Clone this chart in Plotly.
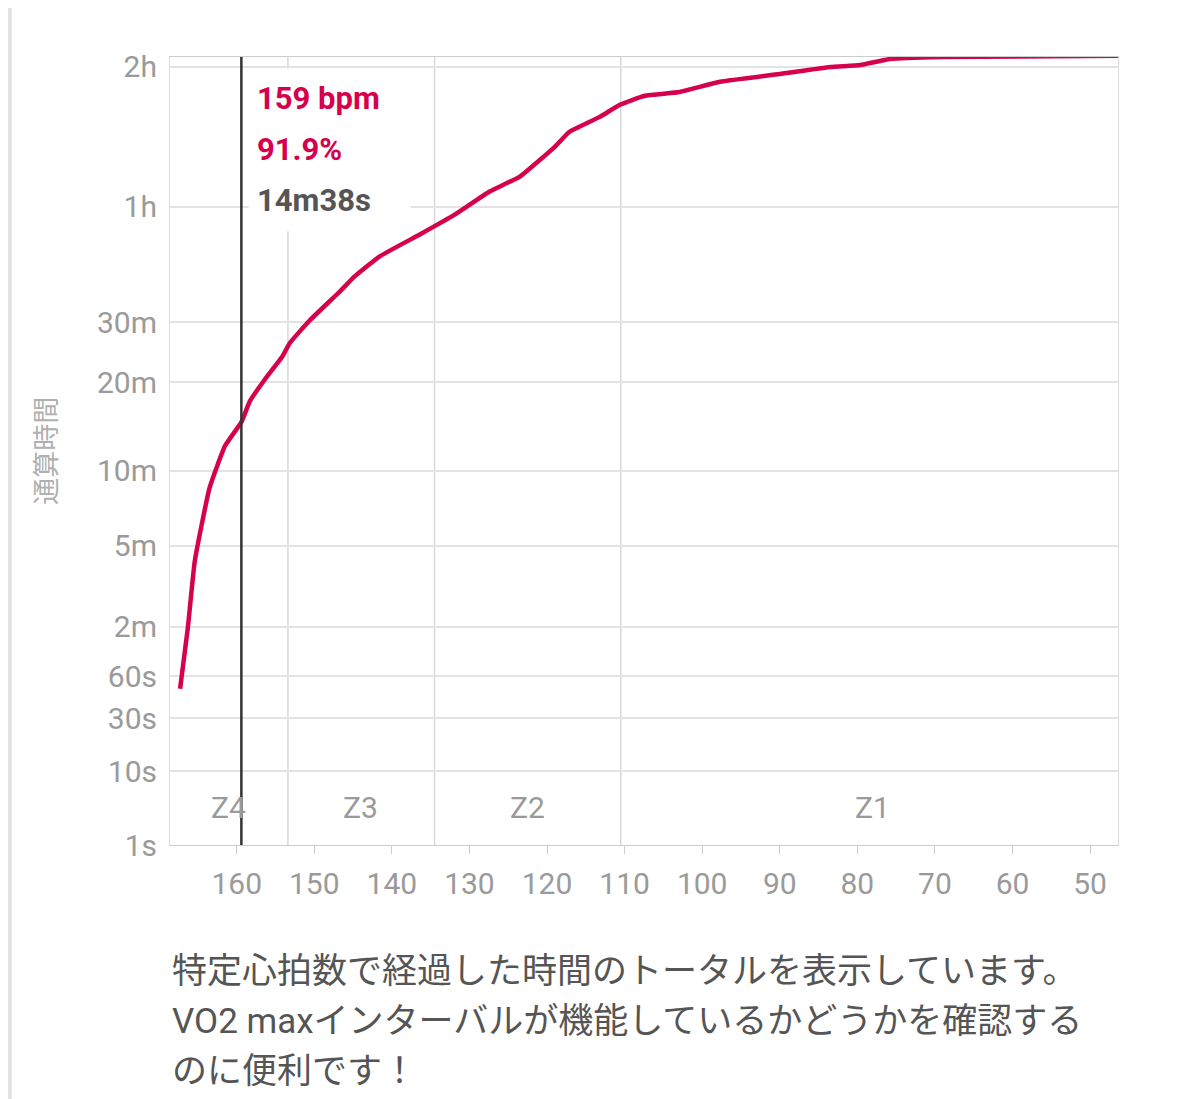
import numpy as np
import plotly.graph_objects as go

# heart rate (bpm) vs cumulative time (seconds)
bpm = [167.3, 166.3, 165.4, 163.5, 161.5, 159.4, 158.3, 156.4, 154.1, 153.2, 150.6, 146.7,
       144.8, 141.6, 136.4, 131.9, 127.4, 123.5, 119.0, 117.1, 113.2, 110.6, 107.4, 102.9,
       97.7, 90.0, 83.5, 79.6, 75.8, 69.3, 46.4]
seconds = [49, 118, 253, 513, 730, 878, 1035, 1220, 1430, 1560, 1820, 2165,
           2370, 2670, 3046, 3430, 3880, 4180, 4845, 5220, 5620, 5970, 6240, 6360,
           6690, 6955, 7200, 7270, 7490, 7570, 7610]

tick_secs = [1, 10, 30, 60, 120, 300, 600, 1200, 1800, 3600, 7200, 14400]
tick_text = ['1s', '10s', '30s', '60s', '2m', '5m', '10m', '20m', '30m', '1h', '2h']
tick_pos = [0, 74, 127, 169, 219, 300, 375, 464, 524, 640, 780, 920]  # the chart's own time scale

zone_edges = [153.4, 134.5, 110.5]
zone_names = ['Z4', 'Z3', 'Z2', 'Z1']
zone_mid = [161.0, 144.0, 122.5, 78.0]

cursor_bpm = 159.4
cursor_lines = ['159 bpm', '91.9%', '14m38s']

caption = ['特定心拍数で経過した時間のトータルを表示しています。',
           'VO2 maxインターバルが機能しているかどうかを確認する',
           'のに便利です！']


def scale(t):
    return np.interp(np.log(t), np.log(tick_secs), tick_pos)


red = '#d6004c'
grey = '#9a9a9a'
font = 'Roboto, Noto Sans CJK JP'

fig = go.Figure()
fig.add_trace(go.Scatter(x=bpm, y=scale(seconds), mode='lines',
                         line=dict(color=red, width=4.5, shape='spline', smoothing=0.4), hoverinfo='skip'))

for z in zone_edges:
    fig.add_shape(type='line', x0=z, x1=z, y0=0, y1=790, line=dict(color='#d8d8d8', width=1.5), layer='below')
for name, m in zip(zone_names, zone_mid):
    fig.add_annotation(x=m, y=38, text=name, showarrow=False, font=dict(size=30, color=grey, family=font))

# hover box
fig.add_shape(type='rect', xref='paper', yref='paper', x0=0.083, x1=0.254, y0=0.779, y1=0.985,
              fillcolor='white', line=dict(width=0), layer='above')
fig.add_shape(type='line', x0=cursor_bpm, x1=cursor_bpm, y0=0, y1=790, line=dict(color='#333', width=2.5), layer='above')
for i, (txt, col) in enumerate(zip(cursor_lines, [red, red, '#555'])):
    fig.add_annotation(x=cursor_bpm, y=748 - i * 51, text='<b>' + txt + '</b>', showarrow=False, xanchor='left',
                       xshift=14, font=dict(size=31, color=col, family=font))

fig.add_annotation(xref='paper', yref='paper', x=-0.13, y=0.5, xanchor='center', text='通算時間', textangle=-90,
                   showarrow=False, font=dict(size=27, color='#b0b0b0', family=font))
for i, line in enumerate(caption):
    fig.add_annotation(xref='paper', yref='paper', x=0.0, y=-0.132 - i * 0.0635, yanchor='top', xanchor='left',
                       text=line, showarrow=False, font=dict(size=35, color='#555', family=font))
fig.add_shape(type='line', xref='paper', yref='paper', x0=-0.169, x1=-0.169, y0=1.08, y1=-0.33,
              line=dict(color='#e3e3e3', width=4))

fig.update_layout(
    width=1179, height=1099, margin=dict(l=162, r=69, t=49, b=262),
    plot_bgcolor='white', paper_bgcolor='white', showlegend=False,
    font=dict(family=font, size=30, color=grey),
)
fig.update_xaxes(range=[168.6, 46.4], tickvals=[160, 150, 140, 130, 120, 110, 100, 90, 80, 70, 60, 50],
                 showgrid=False, ticks='outside', ticklen=8, tickcolor='#ccc', ticklabelstandoff=4,
                 showline=True, linecolor='#ccc', mirror=True, zeroline=False, tickfont=dict(size=30, color=grey))
fig.update_yaxes(range=[0, 790], tickvals=tick_pos[:-1], ticktext=tick_text, showgrid=True, gridcolor='#e3e3e3',
                 gridwidth=1.5, showline=True, linecolor='#ddd', mirror=True, zeroline=False,
                 ticks='', ticklabelstandoff=6, tickfont=dict(size=30, color=grey))

fig.write_html('out.html')
